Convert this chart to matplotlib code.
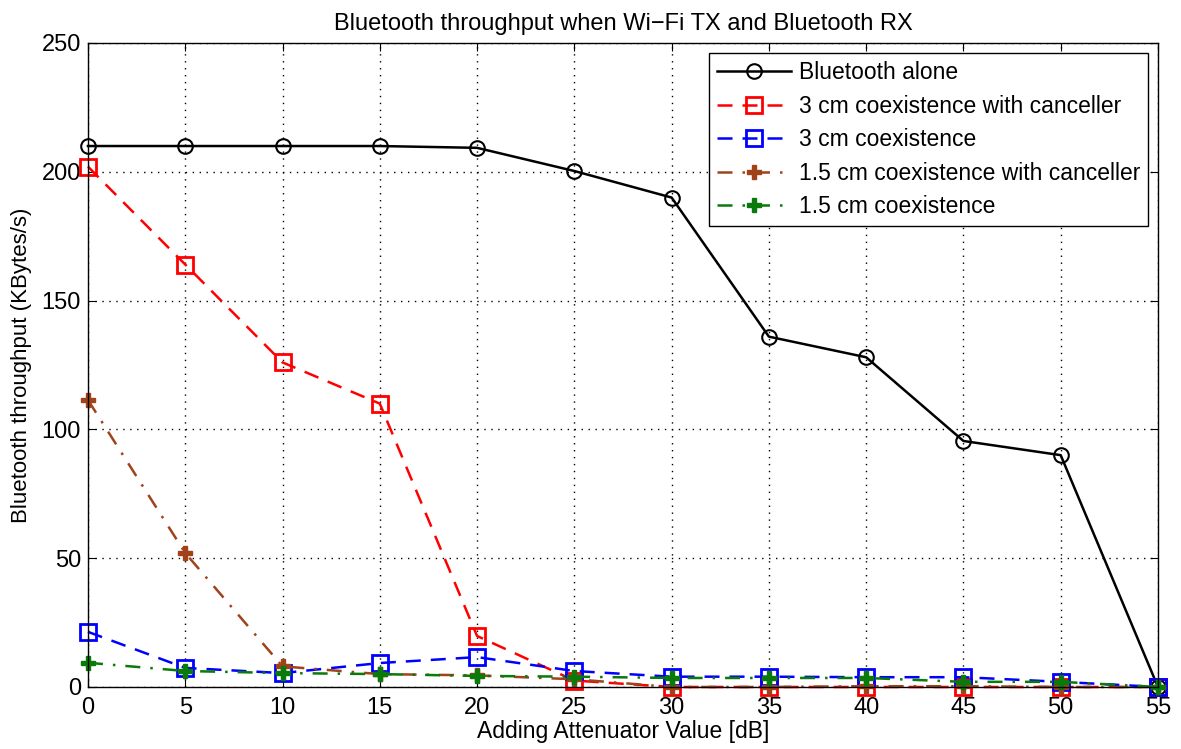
import matplotlib
matplotlib.use("Agg")
import matplotlib.pyplot as plt

plt.rcParams['font.family'] = ['Liberation Sans', 'DejaVu Sans']

x = [0, 5, 10, 15, 20, 25, 30, 35, 40, 45, 50, 55]
bt_alone = [210, 210, 210, 210, 209.3, 200.3, 190, 136, 128, 95.5, 90, 0]
cm3_canc = [202, 164, 126, 110, 19.8, 2.5, 0, 0, 0, 0, 0, 0]
cm3 = [21.4, 7.4, 5.4, 9.3, 11.6, 6.2, 4, 4, 3.8, 3.8, 2, 0]
cm15_canc = [111.4, 52, 8, 5, 4.5, 3, 0, 0, 0.3, 0.3, 0, 0]
cm15 = [9.4, 6.2, 5.4, 5, 4.3, 4, 3.5, 3.5, 3.5, 2, 2, 0]

labels = ["Bluetooth alone", "3 cm coexistence with canceller", "3 cm coexistence",
          "1.5 cm coexistence with canceller", "1.5 cm coexistence"]

fig = plt.figure(figsize=(11.81, 7.49), dpi=100)
ax = fig.add_axes([0.0745, 0.0828, 0.906, 0.8598])

ax.plot(x, bt_alone, color='black', lw=1.8, marker='o', ms=10.5, mfc='none', mew=1.5, label=labels[0])
ax.plot(x, cm3_canc, color='red', lw=1.8, ls=(0, (6, 4)), marker='s', ms=11.5, mfc='none', mew=2, label=labels[1])
ax.plot(x, cm3, color='blue', lw=1.8, ls=(0, (6, 4)), marker='s', ms=11.5, mfc='none', mew=2, label=labels[2])
ax.plot(x, cm15_canc, color='#A0421A', lw=1.8, ls=(0, (6, 4, 1, 4)), marker='P', ms=9.5, label=labels[3])
ax.plot(x, cm15, color='#0A7A0A', lw=1.8, ls=(0, (6, 4, 1, 4)), marker='P', ms=9.5, label=labels[4])

ax.set_xlim(0, 55)
ax.set_ylim(0, 250)
ax.set_xticks(x)
ax.set_yticks([0, 50, 100, 150, 200, 250])
ax.grid(True, color='black', ls=(0, (1, 4)), lw=1)
ax.tick_params(direction='in', top=True, right=True, labelsize=17, length=6)
ax.tick_params(axis='x', pad=7)
ax.tick_params(axis='y', pad=5)
for s in ax.spines.values():
    s.set_linewidth(1)
for ln in ax.lines:
    ln.set_clip_on(False)

ax.set_title("Bluetooth throughput when Wi\u2212Fi TX and Bluetooth RX", fontsize=17, pad=9)
ax.set_xlabel("Adding Attenuator Value [dB]", fontsize=16.5, labelpad=1)
ax.set_ylabel("Bluetooth throughput (KBytes/s)", fontsize=16, labelpad=7)

leg = ax.legend(loc='upper right', fontsize=16.5, fancybox=False, edgecolor='black',
                framealpha=1, handlelength=3.2, handletextpad=0.35, borderpad=0.35,
                labelspacing=0.46, borderaxespad=0, bbox_to_anchor=(0.9907, 0.9845))
leg.get_frame().set_linewidth(1)

fig.savefig("out.png", dpi=100)
